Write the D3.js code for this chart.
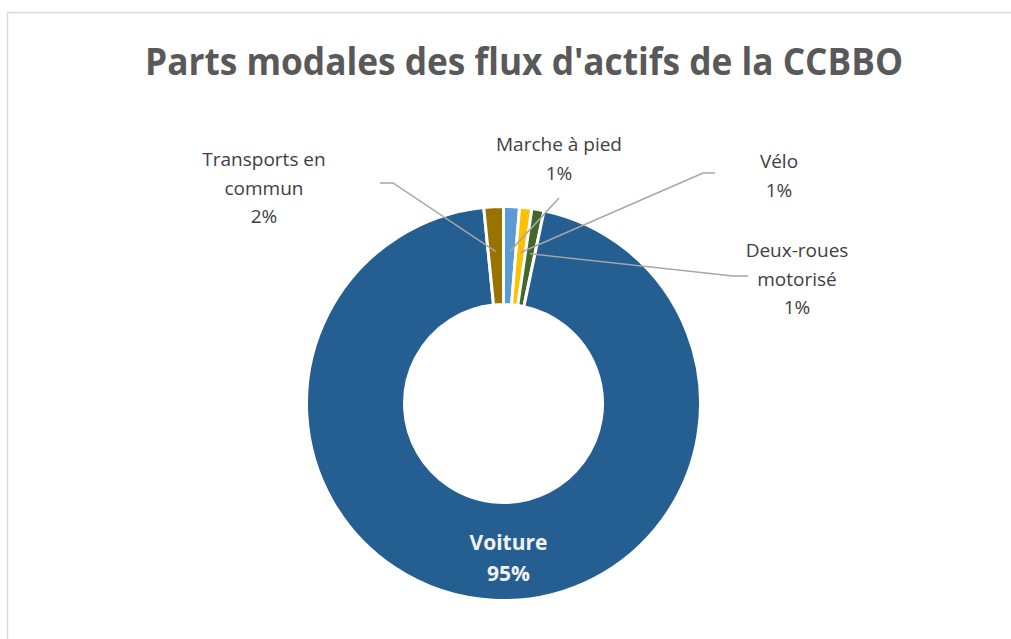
<!DOCTYPE html>
<html>
<head>
<meta charset="utf-8">
<script src="https://cdn.jsdelivr.net/npm/d3@7"></script>
<style>
  body { margin: 0; background: #fff; }
  svg text { font-family: "Open Sans", sans-serif; }
</style>
</head>
<body>
<svg id="chart"></svg>
<script>
// chart data (order follows the slices clockwise from 12 o'clock)
var modes = ['Marche à pied', 'Vélo', 'Deux-roues motorisé', 'Voiture', 'Transports en commun'];
var shares = [1.3, 1.0, 1.0, 95.1, 1.6];
var colorsList = ['#5b9bd5', '#ffc000', '#43682b', '#255e91', '#997300'];
var title = "Parts modales des flux d'actifs de la CCBBO";

let vWidth = 1011,
  vHeight = 639,
  cx = 503.5,
  cy = 403.5,
  rOuter = 197,
  rInner = 99;

var color = d3.scaleOrdinal().domain(modes).range(colorsList);

var svg = d3.select('#chart')
    .attr('width', vWidth)
    .attr('height', vHeight);

// chart frame
svg.append('rect')
    .attr('x', 7.5).attr('y', 12.5)
    .attr('width', 1030).attr('height', 660)
    .attr('fill', '#fff')
    .attr('stroke', '#d9d9d9')
    .attr('stroke-width', 1.5);

svg.append('text')
    .attr('x', 524).attr('y', 75)
    .attr('text-anchor', 'middle')
    .attr('font-size', 37)
    .attr('font-weight', 'bold')
    .attr('fill', '#595959')
    .attr('textLength', 758)
    .attr('lengthAdjust', 'spacingAndGlyphs')
    .text(title);

var pie = d3.pie().sort(null).value(function (d) { return d; });
var arcs = pie(shares);

var arc = d3.arc().innerRadius(rInner).outerRadius(rOuter);
var midArc = d3.arc().innerRadius(152).outerRadius(152);

var g = svg.append('g')
    .attr('transform', 'translate(' + cx + ',' + cy + ')');

g.selectAll('path')
  .data(arcs)
  .enter()
  .append('path')
    .attr('d', arc)
    .attr('fill', function (d, i) { return color(modes[i]); })
    .attr('stroke', '#fff')
    .attr('stroke-width', 3);

// outside labels: position of the text block and the elbow of the leader line
var labelLayout = {
  'Marche à pied':        { lines: ['Marche à pied'], x: 559, y: 151, elbow: [[559, 198]] },
  'Vélo':                 { lines: ['Vélo'], x: 779, y: 168, elbow: [[715, 173], [703, 173]] },
  'Deux-roues motorisé':  { lines: ['Deux-roues', 'motorisé'], x: 797, y: 257, elbow: [[748, 276], [733, 276]] },
  'Transports en commun': { lines: ['Transports en', 'commun'], x: 264, y: 166, elbow: [[380, 183], [393, 183]] }
};

var fmt = function (v) { return Math.round(v) + '%'; };

arcs.forEach(function (d, i) {
  var name = modes[i];
  if (name === 'Voiture') {
    var t = g.append('text')
      .attr('text-anchor', 'middle')
      .attr('font-size', 21)
      .attr('font-weight', 'bold')
      .attr('fill', '#f2f2f2');
    t.append('tspan').attr('x', 5).attr('y', 146).text(name);
    t.append('tspan').attr('x', 5).attr('y', 177).text(fmt(shares[i]));
    return;
  }
  var lay = labelLayout[name];
  var c = midArc.centroid(d);
  var pts = lay.elbow.concat([[c[0] + cx, c[1] + cy]]);
  svg.append('path')
    .attr('d', d3.line()(pts))
    .attr('fill', 'none')
    .attr('stroke', '#a6a6a6')
    .attr('stroke-width', 1.5);

  var txt = svg.append('text')
    .attr('text-anchor', 'middle')
    .attr('font-size', 19)
    .attr('fill', '#404040');
  lay.lines.concat([fmt(shares[i])]).forEach(function (l, k) {
    txt.append('tspan')
      .attr('x', lay.x)
      .attr('y', lay.y + k * 28.5)
      .text(l);
  });
});
</script>
</body>
</html>
